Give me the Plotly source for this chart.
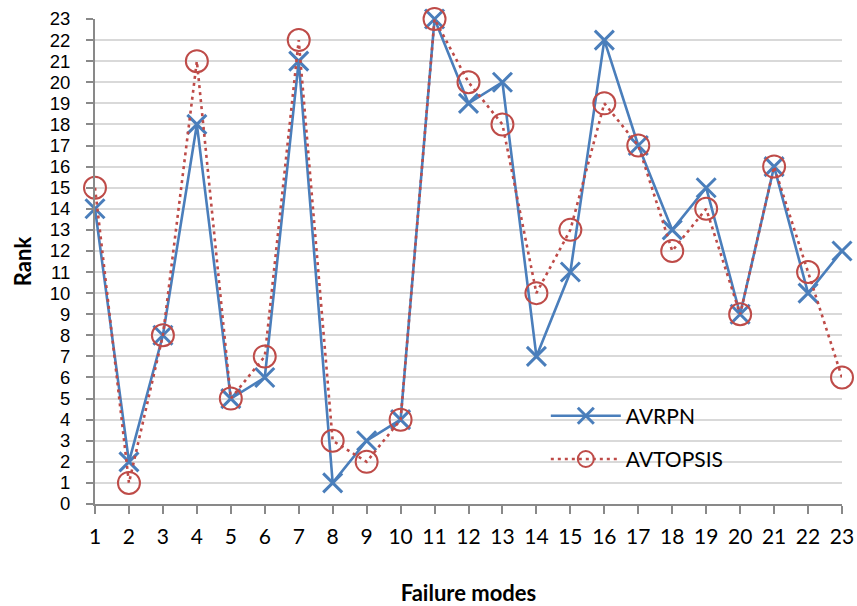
import plotly.graph_objects as go

failure_modes = list(range(1, 24))
avrpn = [14, 2, 8, 18, 5, 6, 21, 1, 3, 4, 23, 19, 20, 7, 11, 22, 17, 13, 15, 9, 16, 10, 12]
avtopsis = [15, 1, 8, 21, 5, 7, 22, 3, 2, 4, 23, 20, 18, 10, 13, 19, 17, 12, 14, 9, 16, 11, 6]

BLUE = "#4A7EBB"
RED = "#BE4B48"
AXIS_GRAY = "#898989"
FONT = "Lato, 'Open Sans', sans-serif"
# tighter line box so the closely spaced rank labels do not collide
TICK_FONT_Y = "'Liberation Sans', Arial, sans-serif"

fig = go.Figure()
fig.add_trace(go.Scatter(
    x=failure_modes, y=avrpn, name="AVRPN", mode="lines+markers",
    line=dict(color=BLUE, width=2.6),
    marker=dict(symbol="x-thin", size=19, line=dict(color=BLUE, width=3)),
    legendgroup="a", cliponaxis=False,
))
fig.add_trace(go.Scatter(
    x=failure_modes, y=avtopsis, name="AVTOPSIS", mode="lines+markers",
    line=dict(color=RED, width=2.6, dash="3px,4px"),
    marker=dict(symbol="circle-open", size=22, color=RED, line=dict(color=RED, width=2)),
    legendgroup="b", cliponaxis=False,
))

fig.update_layout(
    width=857, height=606,
    margin=dict(l=95, r=15, t=19, b=102),
    plot_bgcolor="white", paper_bgcolor="white",
    font=dict(family=FONT, size=20, color="black"),
    showlegend=True,
    legend=dict(
        x=0.6035, y=0.137, xanchor="left", yanchor="middle",
        bgcolor="rgba(0,0,0,0)", itemwidth=70,
        traceorder="grouped", tracegroupgap=13,
        font=dict(size=21),
    ),
    xaxis=dict(
        range=[1, 23], tickmode="array", tickvals=failure_modes,
        automargin=False,
        showgrid=False, zeroline=False,
        showline=True, linecolor=AXIS_GRAY, linewidth=2,
        ticks="outside", ticklen=8, tickcolor=AXIS_GRAY, tickwidth=2,
        ticklabelstandoff=5, tickfont=dict(size=21),
        title=dict(text="<b>Failure modes</b>", font=dict(size=22), standoff=40),
    ),
    yaxis=dict(
        range=[0, 23], tickmode="linear", tick0=0, dtick=1,
        automargin=False,
        showgrid=True, gridcolor="#D9D9D9", gridwidth=2,
        zeroline=False,
        showline=True, linecolor=AXIS_GRAY, linewidth=2,
        ticks="outside", ticklen=7, tickcolor=AXIS_GRAY, tickwidth=2,
        ticklabelstandoff=12, tickfont=dict(size=18.5, family=TICK_FONT_Y),
        title=dict(text="<b>Rank</b>", font=dict(size=22), standoff=12),
    ),
)

fig.write_html("out.html")
